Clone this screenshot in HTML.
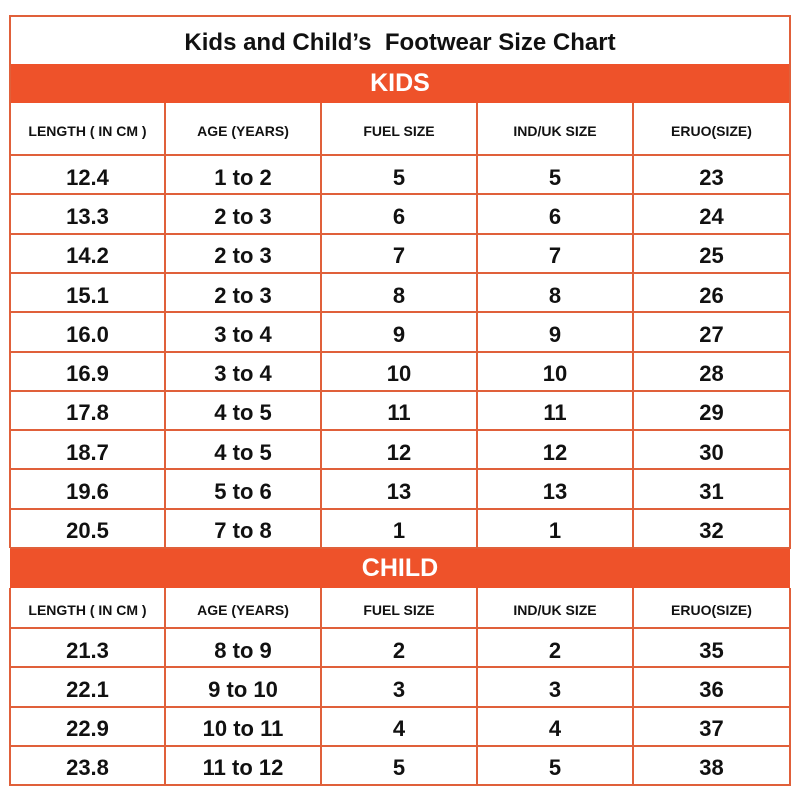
<!DOCTYPE html>
<html><head><meta charset="utf-8"><style>
body{margin:0;width:800px;height:800px;background:#fff;position:relative;overflow:hidden;font-family:"Liberation Sans",Arial,sans-serif;}
.c{position:absolute;display:flex;align-items:center;justify-content:center;color:#111;font-weight:bold;box-sizing:border-box;}
.h{position:absolute;height:2px;background:#e0603a;}
.v{position:absolute;width:2px;background:#e0603a;}
.bar{position:absolute;left:10px;width:780px;background:#ee522a;color:#fff;font-weight:bold;font-size:25px;display:flex;align-items:center;justify-content:center;}
</style></head><body>
<div class="c" style="left:10px;top:19px;width:780px;height:48px;font-size:24px;">Kids and Child’s&nbsp; Footwear Size Chart</div>
<div class="bar" style="top:64px;height:39px;">KIDS</div>
<div class="bar" style="top:548px;height:40px;">CHILD</div>
<div id="g"></div>
<script>
var cols=[10,165,321,477,633,790];
var hdr=["LENGTH ( IN CM )","AGE (YEARS)","FUEL SIZE","IND/UK SIZE","ERUO(SIZE)"];
var kids=[["12.4","1 to 2","5","5","23"],["13.3","2 to 3","6","6","24"],["14.2","2 to 3","7","7","25"],["15.1","2 to 3","8","8","26"],["16.0","3 to 4","9","9","27"],["16.9","3 to 4","10","10","28"],["17.8","4 to 5","11","11","29"],["18.7","4 to 5","12","12","30"],["19.6","5 to 6","13","13","31"],["20.5","7 to 8","1","1","32"]];
var child=[["21.3","8 to 9","2","2","35"],["22.1","9 to 10","3","3","36"],["22.9","10 to 11","4","4","37"],["23.8","11 to 12","5","5","38"]];
var h="";
function row(y0,y1,vals,fs){var pt=fs<16?4:6;for(var i=0;i<5;i++){h+='<div class="c" style="left:'+cols[i]+'px;top:'+y0+'px;width:'+(cols[i+1]-cols[i])+'px;height:'+(y1-y0)+'px;padding-top:'+pt+'px;font-size:'+fs+'px;">'+vals[i]+'</div>';}
 h+='<div class="h" style="left:10px;width:781px;top:'+(y1-1)+'px"></div>';}
function vl(y0,y1){for(var i=0;i<6;i++)h+='<div class="v" style="left:'+(cols[i]-1)+'px;top:'+y0+'px;height:'+(y1-y0)+'px"></div>';}
row(103,155,hdr,14);
for(var k=0;k<10;k++){row(155+k*39.3,155+(k+1)*39.3,kids[k],22);}
vl(103,548);
row(588,628,hdr,14);
for(var k=0;k<4;k++){row(628+k*39.25,628+(k+1)*39.25,child[k],22);}
vl(588,786);
h+='<div class="h" style="left:9px;width:782px;top:15px"></div>';
h+='<div class="v" style="left:9px;top:15px;height:90px"></div><div class="v" style="left:789px;top:15px;height:90px"></div>';
document.getElementById("g").innerHTML=h;
</script>
</body></html>
